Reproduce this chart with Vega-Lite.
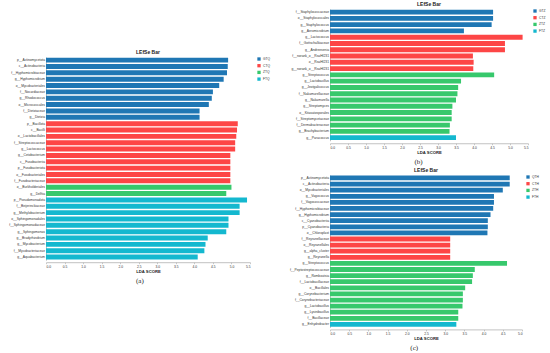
{
  "$schema": "https://vega.github.io/schema/vega-lite/v6.json",
  "padding": {"left": 8, "top": 2, "right": 0, "bottom": 0},
  "background": "white",
  "config": {
    "view": {"stroke": null},
    "font": "Liberation Sans",
    "axis": {"labelFont": "Liberation Sans", "labelFontSize": 3.3, "labelColor": "#333", "domainColor": "#999", "domainWidth": 0.6, "tickColor": "#999", "tickSize": 1.5, "tickWidth": 0.5, "grid": false, "labelPadding": 1, "titleFont": "Liberation Sans", "titleFontSize": 4.2, "titleFontWeight": "bold", "titleColor": "#222", "titlePadding": 1.5},
    "title": {"font": "Liberation Sans", "fontSize": 5, "fontWeight": "bold", "offset": 2, "color": "#222"},
    "legend": {"symbolType": "square", "symbolSize": 11, "symbolStrokeWidth": 0, "labelFontSize": 3.3, "labelFont": "Liberation Sans", "labelColor": "#333", "rowPadding": 2.7, "labelOffset": 2, "padding": 0, "offset": 6, "title": null}
  },
  "datasets": {
    "a": [
      {"name": "p__Actinomycetota", "group": "GTQ", "lda": 4.91},
      {"name": "c__Actinobacteria", "group": "GTQ", "lda": 4.90},
      {"name": "f__Hyphomicrobiaceae", "group": "GTQ", "lda": 4.88},
      {"name": "g__Hyphomicrobium", "group": "GTQ", "lda": 4.79},
      {"name": "o__Mycobacteriales", "group": "GTQ", "lda": 4.67},
      {"name": "f__Nocardiaceae", "group": "GTQ", "lda": 4.50},
      {"name": "g__Rhodococcus", "group": "GTQ", "lda": 4.47},
      {"name": "o__Micrococcales", "group": "GTQ", "lda": 4.39},
      {"name": "f__Dietziaceae", "group": "GTQ", "lda": 4.14},
      {"name": "g__Dietzia", "group": "GTQ", "lda": 4.14},
      {"name": "p__Bacillota", "group": "CTQ", "lda": 5.17},
      {"name": "c__Bacilli", "group": "CTQ", "lda": 5.15},
      {"name": "o__Lactobacillales", "group": "CTQ", "lda": 5.13},
      {"name": "f__Streptococcaceae", "group": "CTQ", "lda": 5.10},
      {"name": "g__Lactococcus", "group": "CTQ", "lda": 5.10},
      {"name": "g__Cetobacterium", "group": "CTQ", "lda": 4.97},
      {"name": "c__Fusobacteriia", "group": "CTQ", "lda": 4.97},
      {"name": "p__Fusobacteriota", "group": "CTQ", "lda": 4.97},
      {"name": "o__Fusobacteriales", "group": "CTQ", "lda": 4.97},
      {"name": "f__Fusobacteriaceae", "group": "CTQ", "lda": 4.97},
      {"name": "o__Burkholderiales", "group": "ZTQ", "lda": 5.00},
      {"name": "g__Delftia", "group": "ZTQ", "lda": 4.86},
      {"name": "p__Pseudomonadota", "group": "FTQ", "lda": 5.42},
      {"name": "f__Beijerinckiaceae", "group": "FTQ", "lda": 5.22},
      {"name": "g__Methylobacterium", "group": "FTQ", "lda": 5.22},
      {"name": "o__Sphingomonadales", "group": "FTQ", "lda": 4.92},
      {"name": "f__Sphingomonadaceae", "group": "FTQ", "lda": 4.92},
      {"name": "g__Sphingomonas", "group": "FTQ", "lda": 4.86},
      {"name": "g__Bradyrhizobium", "group": "FTQ", "lda": 4.36},
      {"name": "g__Mycobacterium", "group": "FTQ", "lda": 4.30},
      {"name": "f__Mycobacteriaceae", "group": "FTQ", "lda": 4.27},
      {"name": "g__Aquabacterium", "group": "FTQ", "lda": 4.09}
    ],
    "b": [
      {"name": "f__Staphylococcaceae", "group": "GTZ", "lda": 4.53},
      {"name": "o__Staphylococcales", "group": "GTZ", "lda": 4.53},
      {"name": "g__Staphylococcus", "group": "GTZ", "lda": 4.49},
      {"name": "g__Aeromicrobium", "group": "GTZ", "lda": 3.72},
      {"name": "g__Lactococcus", "group": "CTZ", "lda": 5.35},
      {"name": "f__Gottschalkiaceae", "group": "CTZ", "lda": 4.86},
      {"name": "g__Andreesenia", "group": "CTZ", "lda": 4.86},
      {"name": "f__norank_o__RsaHf231", "group": "CTZ", "lda": 3.97},
      {"name": "o__RsaHf231", "group": "CTZ", "lda": 3.99},
      {"name": "g__norank_o__RsaHf231", "group": "CTZ", "lda": 3.98},
      {"name": "g__Streptococcus", "group": "ZTZ", "lda": 4.56},
      {"name": "g__Lactobacillus", "group": "ZTZ", "lda": 3.64},
      {"name": "g__Jeotgalicoccus", "group": "ZTZ", "lda": 3.56},
      {"name": "f__Nakamurellaceae", "group": "ZTZ", "lda": 3.54},
      {"name": "g__Nakamurella", "group": "ZTZ", "lda": 3.50},
      {"name": "g__Streptomyces", "group": "ZTZ", "lda": 3.40},
      {"name": "o__Kitasatosporales", "group": "ZTZ", "lda": 3.38},
      {"name": "f__Streptomycetaceae", "group": "ZTZ", "lda": 3.38},
      {"name": "f__Dermabacteraceae", "group": "ZTZ", "lda": 3.33},
      {"name": "g__Brachybacterium", "group": "ZTZ", "lda": 3.32},
      {"name": "g__Paracoccus", "group": "FTZ", "lda": 3.50}
    ],
    "c": [
      {"name": "p__Actinomycetota", "group": "QTH", "lda": 4.68},
      {"name": "c__Actinobacteria", "group": "QTH", "lda": 4.68},
      {"name": "o__Mycobacteriales", "group": "QTH", "lda": 4.50},
      {"name": "g__Vagococcus", "group": "QTH", "lda": 4.27},
      {"name": "f__Vagococcaceae", "group": "QTH", "lda": 4.27},
      {"name": "f__Hyphomicrobiaceae", "group": "QTH", "lda": 4.25},
      {"name": "g__Hyphomicrobium", "group": "QTH", "lda": 4.18},
      {"name": "c__Cyanobacteriia", "group": "QTH", "lda": 4.11},
      {"name": "p__Cyanobacteria", "group": "QTH", "lda": 4.11},
      {"name": "o__Chloroplast", "group": "QTH", "lda": 4.10},
      {"name": "f__Reyranellaceae", "group": "CTH", "lda": 3.13},
      {"name": "o__Reyranellales", "group": "CTH", "lda": 3.13},
      {"name": "g__alpha_cluster", "group": "CTH", "lda": 3.13},
      {"name": "g__Reyranella", "group": "CTH", "lda": 3.13},
      {"name": "g__Streptococcus", "group": "ZTH", "lda": 4.61},
      {"name": "f__Peptostreptococcaceae", "group": "ZTH", "lda": 3.77},
      {"name": "g__Romboutsia", "group": "ZTH", "lda": 3.72},
      {"name": "f__Lactobacillaceae", "group": "ZTH", "lda": 3.70},
      {"name": "o__Bacillales", "group": "ZTH", "lda": 3.52},
      {"name": "g__Corynebacterium", "group": "ZTH", "lda": 3.46},
      {"name": "f__Corynebacteriaceae", "group": "ZTH", "lda": 3.46},
      {"name": "g__Lactobacillus", "group": "ZTH", "lda": 3.45},
      {"name": "g__Lysinibacillus", "group": "ZTH", "lda": 3.34},
      {"name": "f__Bacillaceae", "group": "ZTH", "lda": 3.34},
      {"name": "g__Enhydrobacter", "group": "FTH", "lda": 3.29}
    ]
  },
  "resolve": {"scale": {"color": "independent"}},
  "spacing": 18,
  "hconcat": [
    {
      "spacing": 0,
      "resolve": {"scale": {"color": "independent"}},
      "vconcat": [
        {"width": 1, "height": 41, "data": {"values": []}, "mark": "rule", "encoding": {}},
        {
          "title": {"text": "(a)", "orient": "bottom", "anchor": "middle", "font": "Liberation Serif", "fontSize": 7, "fontWeight": "normal", "offset": 3},
          "vconcat": [
            {
              "data": {"name": "a"},
              "width": 204,
              "height": 203.2,
              "title": {"text": "LEfSe Bar"},
              "mark": {"type": "bar"},
              "encoding": {
                "y": {"field": "name", "type": "nominal", "sort": null, "scale": {"paddingInner": 0.22, "paddingOuter": 0.1}, "axis": {"title": null, "ticks": false, "labelPadding": 1.5}},
                "x": {"field": "lda", "type": "quantitative", "scale": {"domain": [0, 5.5], "nice": false}, "axis": {"title": "LDA SCORE", "values": [0, 0.5, 1, 1.5, 2, 2.5, 3, 3.5, 4, 4.5, 5, 5.5], "offset": 2}},
                "color": {"field": "group", "type": "nominal", "scale": {"domain": ["GTQ", "CTQ", "ZTQ", "FTQ"], "range": ["#1f77b4", "#fd4646", "#37c86c", "#14b8cf"]}, "legend": {"offset": 6}}
              }
            }
          ]
        }
      ]
    },
    {
      "spacing": 3,
      "resolve": {"scale": {"color": "independent"}},
      "vconcat": [
        {
          "title": {"text": "(b)", "orient": "bottom", "anchor": "middle", "font": "Liberation Serif", "fontSize": 7, "fontWeight": "normal", "offset": 3},
          "vconcat": [
            {
              "data": {"name": "b"},
              "width": 198,
              "height": 131.75,
              "title": {"text": "LEfSe Bar"},
              "mark": {"type": "bar"},
              "encoding": {
                "y": {"field": "name", "type": "nominal", "sort": null, "scale": {"paddingInner": 0.22, "paddingOuter": 0.1}, "axis": {"title": null, "ticks": false, "labelPadding": 1.5}},
                "x": {"field": "lda", "type": "quantitative", "scale": {"domain": [0, 5.5], "nice": false}, "axis": {"title": "LDA SCORE", "values": [0, 0.5, 1, 1.5, 2, 2.5, 3, 3.5, 4, 4.5, 5, 5.5], "offset": 2.5}},
                "color": {"field": "group", "type": "nominal", "scale": {"domain": ["GTZ", "CTZ", "ZTZ", "FTZ"], "range": ["#1f77b4", "#fd4646", "#37c86c", "#14b8cf"]}, "legend": {"offset": 3.5}}
              }
            }
          ]
        },
        {
          "title": {"text": "(c)", "orient": "bottom", "anchor": "middle", "font": "Liberation Serif", "fontSize": 7, "fontWeight": "normal", "offset": 3},
          "vconcat": [
            {
              "data": {"name": "c"},
              "width": 192,
              "height": 152.4,
              "title": {"text": "LEfSe Bar"},
              "mark": {"type": "bar"},
              "encoding": {
                "y": {"field": "name", "type": "nominal", "sort": null, "scale": {"paddingInner": 0.22, "paddingOuter": 0.1}, "axis": {"title": null, "ticks": false, "labelPadding": 1.5}},
                "x": {"field": "lda", "type": "quantitative", "scale": {"domain": [0, 5], "nice": false}, "axis": {"title": "LDA SCORE", "values": [0, 0.5, 1, 1.5, 2, 2.5, 3, 3.5, 4, 4.5, 5], "offset": 2}},
                "color": {"field": "group", "type": "nominal", "scale": {"domain": ["QTH", "CTH", "ZTH", "FTH"], "range": ["#1f77b4", "#fd4646", "#37c86c", "#14b8cf"]}, "legend": {"offset": 3}}
              }
            }
          ]
        }
      ]
    }
  ]
}
